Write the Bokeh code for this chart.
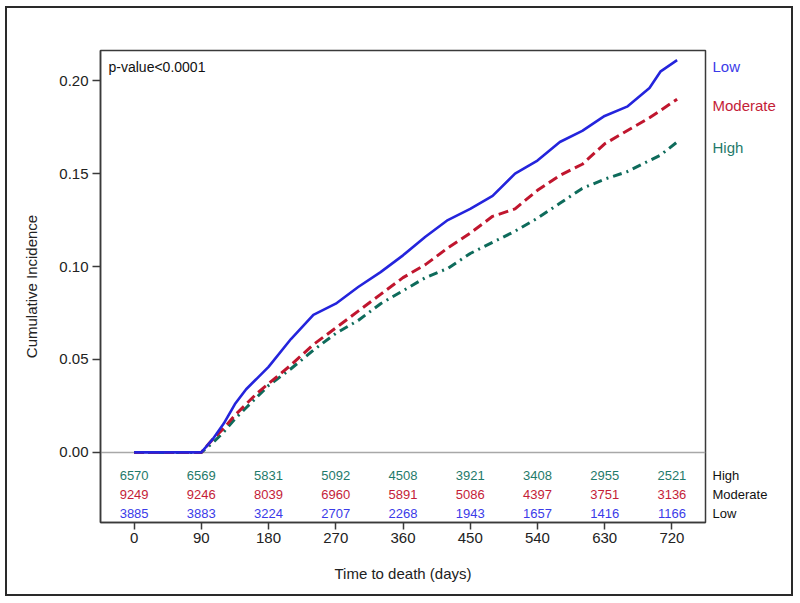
from bokeh.plotting import figure
from bokeh.layouts import row
from bokeh.models import Range1d, FixedTicker, Span, Label
from bokeh.core.properties import value
from bokeh.embed import file_html
from bokeh.resources import INLINE

# ---------------- data ----------------
days = [0, 90, 105, 120, 135, 150, 165, 180, 210, 240, 270, 300, 330, 360, 390,
        420, 450, 480, 510, 540, 570, 600, 630, 660, 690, 705, 727]
cif_low = [0, 0, 0.007, 0.0155, 0.026, 0.034, 0.040, 0.046, 0.061, 0.074, 0.080,
           0.089, 0.097, 0.106, 0.116, 0.125, 0.131, 0.138, 0.150, 0.157, 0.167,
           0.173, 0.181, 0.186, 0.196, 0.205, 0.211]
cif_moderate = [0, 0, 0.007, 0.013, 0.020, 0.026, 0.032, 0.037, 0.047, 0.058, 0.067,
                0.076, 0.085, 0.094, 0.101, 0.110, 0.118, 0.127, 0.131, 0.141, 0.149,
                0.155, 0.166, 0.173, 0.180, 0.184, 0.190]
cif_high = [0, 0, 0.005, 0.011, 0.018, 0.024, 0.030, 0.036, 0.045, 0.055, 0.064,
            0.071, 0.080, 0.087, 0.094, 0.099, 0.107, 0.113, 0.119, 0.126, 0.134,
            0.142, 0.147, 0.151, 0.157, 0.160, 0.167]

risk_days = [0, 90, 180, 270, 360, 450, 540, 630, 720]
risk_high = [6570, 6569, 5831, 5092, 4508, 3921, 3408, 2955, 2521]
risk_moderate = [9249, 9246, 8039, 6960, 5891, 5086, 4397, 3751, 3136]
risk_low = [3885, 3883, 3224, 2707, 2268, 1943, 1657, 1416, 1166]

groups = ["Low", "Moderate", "High"]
x_ticks = [0, 90, 180, 270, 360, 450, 540, 630, 720]
y_ticks = [0.0, 0.05, 0.10, 0.15, 0.20]
y_tick_labels = ["0.00", "0.05", "0.10", "0.15", "0.20"]
p_value_text = "p-value<0.0001"
x_title = "Time to death (days)"
y_title = "Cumulative Incidence"

# ---------------- style ----------------
FONT = "Liberation Sans"
line_colors = {"Low": "#2424dc", "Moderate": "#c0162e", "High": "#0e6b5b"}
text_colors = {"Low": "#3b3be8", "Moderate": "#c41d38", "High": "#1f7a6a"}
dashes = {"Low": "solid", "Moderate": "10 5", "High": "9 5 2 5"}
widths = {"Low": 2.6, "Moderate": 3.0, "High": 3.0}

X0, X1 = -45, 765
Y0, Y1 = -0.0377, 0.2162
row_y = {"High": -0.0125, "Moderate": -0.0228, "Low": -0.0328}

H = 586
TOP, BOTTOM = 42, 72
yr = Range1d(Y0, Y1)

p = figure(width=700, height=H, output_backend="svg", toolbar_location=None,
           x_range=Range1d(X0, X1), y_range=yr,
           min_border_left=93, min_border_right=2, min_border_top=TOP,
           min_border_bottom=BOTTOM)
p.grid.visible = False
p.outline_line_color = "#3a3a3a"
p.outline_line_width = 1.5

p.xaxis.ticker = FixedTicker(ticks=x_ticks)
p.yaxis.ticker = FixedTicker(ticks=y_ticks)
p.yaxis.major_label_overrides = {t: l for t, l in zip(y_ticks, y_tick_labels)}
p.xaxis.axis_label = x_title
p.yaxis.axis_label = y_title
for ax in (p.xaxis, p.yaxis):
    ax.axis_line_color = "#3a3a3a"
    ax.axis_line_width = 1.5
    ax.major_tick_line_color = "#3a3a3a"
    ax.major_tick_line_width = 1.5
    ax.major_tick_in = 0
    ax.minor_tick_line_color = None
    ax.major_label_text_font = FONT
    ax.major_label_text_font_size = "15px"
    ax.major_label_text_color = "#222222"
    ax.axis_label_text_font = FONT
    ax.axis_label_text_font_size = "15px"
    ax.axis_label_text_font_style = "normal"
    ax.axis_label_text_color = "#222222"
p.xaxis.major_tick_out = 7
p.yaxis.major_tick_out = 8
p.xaxis.major_label_standoff = 3
p.yaxis.major_label_standoff = 4
p.xaxis.axis_label_standoff = 19
p.yaxis.axis_label_standoff = 16

p.add_layout(Span(location=0, dimension="width", line_color="#a8a8a8",
                  line_width=1.5, level="underlay"))

series = {"Low": cif_low, "Moderate": cif_moderate, "High": cif_high}
for g in ["High", "Moderate", "Low"]:
    p.line(days, series[g], line_color=line_colors[g], line_width=widths[g],
           line_dash=dashes[g])

p.add_layout(Label(x=X0, y=Y1, x_offset=8, y_offset=-16, text=p_value_text,
                   text_font=FONT, text_font_size="14px", text_color="#111111",
                   text_baseline="middle", text_align="left"))

risk = {"High": risk_high, "Moderate": risk_moderate, "Low": risk_low}
for g in ["High", "Moderate", "Low"]:
    p.text(x=risk_days, y=[row_y[g]] * len(risk_days),
           text=[str(v) for v in risk[g]], text_font=value(FONT),
           text_font_size="13px", text_color=text_colors[g],
           text_align="center", text_baseline="middle")

# right-hand label panel (shares the y scale)
p2 = figure(width=84, height=H, output_backend="svg", toolbar_location=None,
            x_range=Range1d(0, 84), y_range=yr,
            x_axis_location=None, y_axis_location=None,
            min_border_left=0, min_border_right=0, min_border_top=TOP,
            min_border_bottom=BOTTOM)
p2.grid.visible = False
p2.outline_line_color = None

for g in groups:
    p2.text(x=[5], y=[series[g][-1]], text=[g], text_font=value(FONT),
            text_font_size="15px", text_color=text_colors[g],
            text_align="left", text_baseline="middle", y_offset=6)
    p2.text(x=[5], y=[row_y[g]], text=[g], text_font=value(FONT),
            text_font_size="13px", text_color="#111111",
            text_align="left", text_baseline="middle")

layout = row(p, p2, styles={"border": "2px solid #2a2a2a"})
layout.margin = (6, 0, 0, 5)

open("out.html", "w").write(file_html(layout, INLINE))
